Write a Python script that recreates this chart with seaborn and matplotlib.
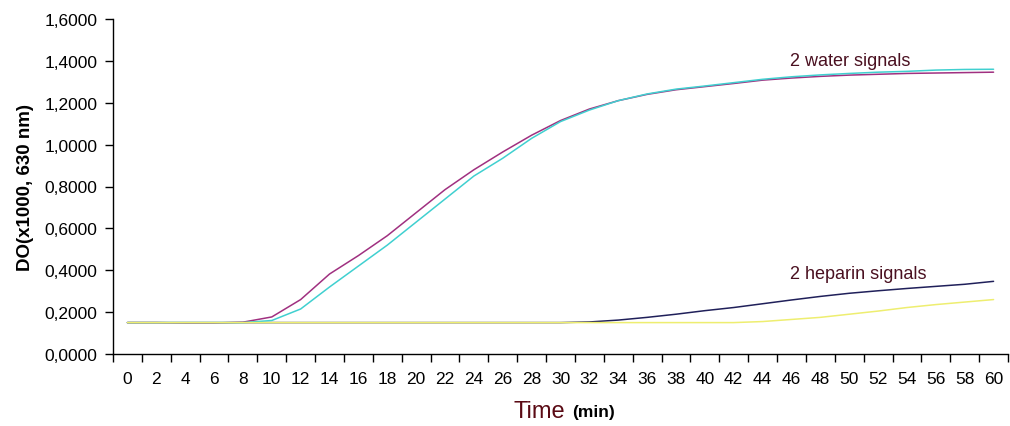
import pandas as pd
import matplotlib
matplotlib.use("Agg")
import matplotlib.pyplot as plt
from matplotlib.ticker import FixedLocator, FuncFormatter
import seaborn as sns

# dados (min, DO)
tempo = list(range(0, 61, 2))
water_1 = [0.150, 0.150, 0.148, 0.148, 0.152, 0.177, 0.260, 0.382, 0.470, 0.565,
           0.675, 0.785, 0.880, 0.965, 1.045, 1.115, 1.170, 1.210, 1.240, 1.262,
           1.277, 1.292, 1.308, 1.318, 1.326, 1.332, 1.336, 1.340, 1.342, 1.344, 1.346]
water_2 = [0.150, 0.150, 0.150, 0.150, 0.150, 0.160, 0.215, 0.320, 0.420, 0.520,
           0.630, 0.740, 0.850, 0.935, 1.030, 1.110, 1.165, 1.210, 1.242, 1.265,
           1.280, 1.296, 1.312, 1.324, 1.333, 1.340, 1.346, 1.350, 1.356, 1.359, 1.360]
heparin_1 = [0.150] * 16 + [0.153, 0.162, 0.175, 0.190, 0.207, 0.222, 0.240,
                            0.258, 0.275, 0.290, 0.302, 0.313, 0.323, 0.333, 0.347]
heparin_2 = [0.150] * 22 + [0.155, 0.165, 0.175, 0.190, 0.205, 0.222, 0.236,
                            0.248, 0.260]

series = {
    "heparin_1": (heparin_1, "#20205a"),
    "water_1": (water_1, "#a03080"),
    "water_2": (water_2, "#40d0d0"),
    "heparin_2": (heparin_2, "#eeee70"),
}

sns.set_theme(style="white")
plt.rcParams["font.family"] = ["Liberation Sans", "DejaVu Sans"]

fig = plt.figure(figsize=(10.10, 4.27), dpi=100)
ax = fig.add_axes([113 / 1010, 72 / 427, (1008 - 113) / 1010, 335 / 427])

for nome, (valores, cor) in series.items():
    df = pd.DataFrame({"Tempo": tempo, "DO": valores})
    sns.lineplot(data=df, x="Tempo", y="DO", color=cor, linewidth=1.1, ax=ax)

ax.set_xlim(-1, 61)
ax.set_ylim(0, 1.6)

# eixo de categorias estilo Excel: marcas entre os rótulos
ax.xaxis.set_major_locator(FixedLocator(list(range(-1, 62, 2))))
ax.xaxis.set_minor_locator(FixedLocator(tempo))
ax.xaxis.set_major_formatter(FuncFormatter(lambda v, p: ""))
ax.xaxis.set_minor_formatter(FuncFormatter(lambda v, p: f"{int(v)}"))
ax.tick_params(axis="x", which="major", length=6, width=1, color="black", direction="out", bottom=True)
ax.tick_params(axis="x", which="minor", length=0, pad=12, labelsize=12.5, labelcolor="black", bottom=True)

ax.set_yticks([0.2 * i for i in range(9)])
ax.yaxis.set_major_formatter(FuncFormatter(lambda v, p: f"{v:.4f}".replace(".", ",")))
ax.tick_params(axis="y", length=6, width=1, color="black", direction="out", left=True,
               labelsize=12.5, labelcolor="black", pad=5)

for lado in ["top", "right"]:
    ax.spines[lado].set_visible(False)
for lado in ["left", "bottom"]:
    ax.spines[lado].set_color("black")
    ax.spines[lado].set_linewidth(1)

ax.set_xlabel("")
ax.set_ylabel("DO(x1000, 630 nm)", fontsize=13.5, fontweight="bold", color="black", labelpad=8)
ax.grid(False)

ax.text(45.9, 1.40, "2 water signals", fontsize=13, color="#4a1020", va="center", ha="left")
ax.text(45.9, 0.385, "2 heparin signals", fontsize=13, color="#4a1020", va="center", ha="left")

fig.text(513 / 1010, 1 - 412 / 427, "Time", fontsize=17, color="#5a0a14", va="center", ha="left")
fig.text(572 / 1010, 1 - 413 / 427, "(min)", fontsize=12.5, fontweight="bold", color="black",
         va="center", ha="left")

fig.savefig("out.png", dpi=100, facecolor="white")
